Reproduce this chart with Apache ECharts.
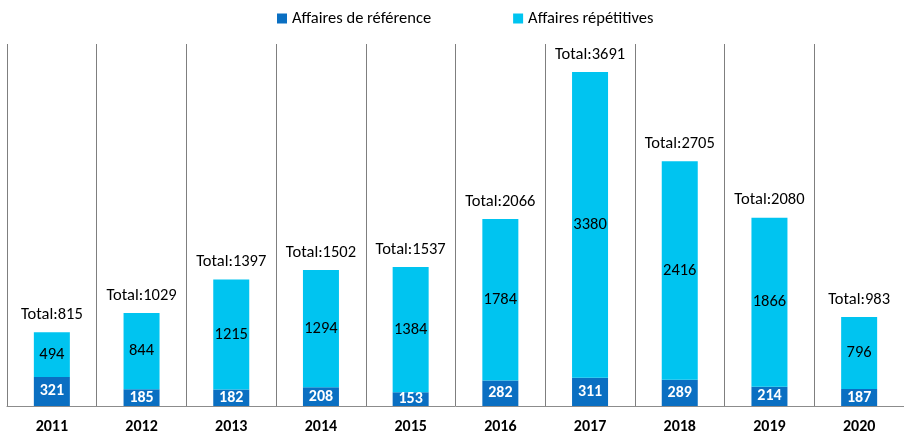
<!DOCTYPE html>
<html><head><meta charset="utf-8">
<script src="https://cdn.jsdelivr.net/npm/echarts@6/dist/echarts.min.js"></script>
<style>html,body{margin:0;padding:0;background:#fff}#c{width:904px;height:439px}</style>
</head><body><div id="c"></div>
<script>
const categories = ['2011','2012','2013','2014','2015','2016','2017','2018','2019','2020'];
const reference = [321,185,182,208,153,282,311,289,214,187];
const repetitive = [494,844,1215,1294,1384,1784,3380,2416,1866,796];
const totals = [815,1029,1397,1502,1537,2066,3691,2705,2080,983];
const seriesNames = ['Affaires de référence','Affaires répétitives'];

const FONT = 'Carlito, Calibri, Lato, "Open Sans", sans-serif';
const chart = echarts.init(document.getElementById('c'));
chart.setOption({
  animation: false,
  textStyle: {fontFamily: FONT},
  legend: {
    top: 5, left: 272, itemWidth: 10, itemHeight: 10, itemGap: 82,
    icon: 'rect',
    textStyle: {fontSize: 16.5, color: '#000', fontFamily: FONT},
    data: seriesNames
  },
  grid: {left: 7, right: -2, top: 44, bottom: 33, containLabel: false},
  xAxis: {
    type: 'category', data: categories, boundaryGap: true,
    axisLine: {show: true, lineStyle: {color: '#8c8c8c', width: 1}},
    axisTick: {show: false},
    axisLabel: {fontWeight: 'bold', fontSize: 16, color: '#000', margin: 13, fontFamily: FONT},
    splitLine: {show: true, lineStyle: {color: '#7f7f7f', width: 1}}
  },
  yAxis: {type: 'value', min: 0, max: 4000, show: false, splitLine: {show: false}},
  series: [
    {
      name: seriesNames[0], type: 'bar', stack: 's', barWidth: 36,
      data: reference,
      itemStyle: {color: '#0A6FC2'},
      label: {show: true, position: 'inside', color: '#fff', fontWeight: 'bold', fontSize: 16, fontFamily: FONT}
    },
    {
      name: seriesNames[1], type: 'bar', stack: 's', barWidth: 36,
      data: repetitive,
      itemStyle: {color: '#00C4F0'},
      label: {show: true, position: 'inside', color: '#000', fontSize: 16.5, fontFamily: FONT}
    },
    {
      name: 'Total', type: 'bar', stack: 's', barWidth: 36,
      data: totals.map(() => 0),
      itemStyle: {color: 'transparent'},
      label: {show: true, position: 'top', distance: 9, color: '#000', fontSize: 16.5, fontFamily: FONT,
        formatter: p => 'Total:' + totals[p.dataIndex]}
    }
  ]
});
</script></body></html>
